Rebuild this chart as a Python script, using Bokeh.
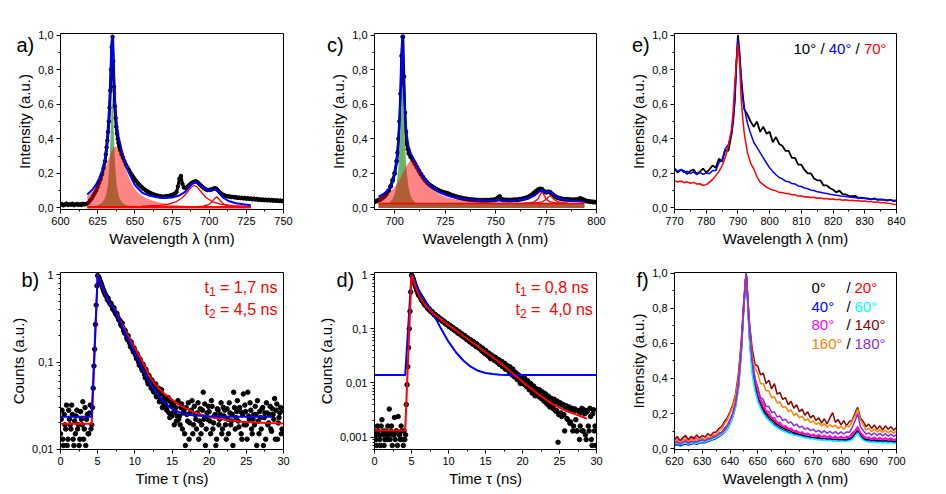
from bokeh.embed import file_html
from bokeh.layouts import gridplot
from bokeh.models import CustomJSTickFormatter, FixedTicker, Label, Range1d, SingleIntervalTicker
from bokeh.plotting import figure
from bokeh.resources import INLINE

FONT = "Liberation Sans"

# ---------------- a) emission spectrum with Lorentzian decomposition ----------------
A_WL = list(range(600, 631)) + [630.5 + 0.5 * i for i in range(20)] + list(range(641, 751))
A_SIGNAL = [
    0.018, 0.022, 0.015, 0.020, 0.025, 0.017, 0.021, 0.019, 0.024, 0.016,
    0.020, 0.023, 0.018, 0.021, 0.017, 0.024, 0.020, 0.022, 0.026, 0.032,
    0.045, 0.055, 0.070, 0.085, 0.100, 0.120, 0.145, 0.165, 0.195, 0.230,
    0.270,
    0.310, 0.350, 0.390, 0.440, 0.500, 0.580, 0.680, 0.800, 0.930, 0.990,
    0.850, 0.700, 0.590, 0.520, 0.470, 0.430, 0.400, 0.375, 0.355, 0.335,
    0.310, 0.290, 0.270, 0.250, 0.235, 0.220, 0.205, 0.190, 0.178, 0.165,
    0.155, 0.143, 0.135, 0.125, 0.118, 0.110, 0.104, 0.098, 0.093, 0.088,
    0.084, 0.080, 0.077, 0.074, 0.072, 0.069, 0.067, 0.066, 0.065, 0.066,
    0.067, 0.068, 0.070, 0.072, 0.075, 0.079, 0.083, 0.092, 0.125, 0.170,
    0.185, 0.140, 0.118, 0.116, 0.120, 0.128, 0.136, 0.143, 0.148, 0.152,
    0.154, 0.150, 0.142, 0.134, 0.126, 0.118, 0.111, 0.106, 0.103, 0.104,
    0.106, 0.108, 0.112, 0.114, 0.110, 0.102, 0.092, 0.084, 0.078, 0.074,
    0.070, 0.068, 0.066, 0.066, 0.063, 0.064, 0.061, 0.062, 0.058, 0.060,
    0.057, 0.059, 0.055, 0.058, 0.053, 0.056, 0.052, 0.055, 0.050, 0.054,
    0.049, 0.052, 0.047, 0.050, 0.046, 0.049, 0.045, 0.048, 0.044, 0.047,
    0.043, 0.046, 0.042, 0.045, 0.041, 0.044, 0.040, 0.043, 0.039, 0.042,
]
A_BROAD_WL = [618, 620, 622, 624, 626, 628, 630, 632, 634, 636, 637, 638, 640, 642, 644,
              646, 648, 650, 652, 655, 658, 662, 666, 670, 676, 684, 695, 710, 728]
A_BROAD = [0.069, 0.082, 0.099, 0.120, 0.148, 0.183, 0.227, 0.275, 0.322, 0.351, 0.355, 0.351,
           0.322, 0.275, 0.225, 0.178, 0.138, 0.110, 0.090, 0.070, 0.055, 0.042, 0.033, 0.026,
           0.019, 0.013, 0.009, 0.006, 0.004]
A_NARROW_WL = [620, 625, 628, 630, 631, 632, 633, 633.8, 634.3, 634.8, 635.3, 635.8, 636.6,
               637.8, 639.6, 641.8, 644.8, 649.8]
A_NARROW = [0.007, 0.015, 0.030, 0.058, 0.088, 0.145, 0.266, 0.450, 0.585, 0.650, 0.585, 0.450,
            0.266, 0.130, 0.058, 0.029, 0.014, 0.006]
A_PEAK1_WL = [655, 665, 672, 678, 682, 685, 688, 690, 692, 695, 698, 702, 708, 716, 728]
A_PEAK1 = [0.010, 0.014, 0.021, 0.037, 0.059, 0.088, 0.121, 0.130, 0.121, 0.088, 0.059, 0.037,
           0.021, 0.013, 0.009]
A_PEAK2_WL = [692, 696, 699, 701, 703, 705, 707, 709, 711, 714, 718, 724]
A_PEAK2 = [0.008, 0.011, 0.017, 0.027, 0.047, 0.065, 0.047, 0.027, 0.017, 0.011, 0.008, 0.0065]
A_BASE_WL = [618, 728]
A_BASE = [0.004, 0.004]
A_FIT_WL = [618, 620, 622, 624, 626, 628, 630, 631, 632, 633, 633.8, 634.3, 634.8, 635.3,
            635.8, 636.6, 637.8, 639, 641, 643, 646, 650, 655, 660, 665, 670, 675, 680, 684,
            687, 690, 693, 696, 699, 702, 704, 706, 709, 713, 718, 723, 728]
A_FIT = [0.078, 0.093, 0.112, 0.136, 0.171, 0.218, 0.290, 0.343, 0.425, 0.575, 0.775, 0.925,
         1.000, 0.930, 0.800, 0.625, 0.490, 0.415, 0.340, 0.278, 0.203, 0.133, 0.088, 0.070,
         0.062, 0.058, 0.060, 0.072, 0.094, 0.127, 0.150, 0.140, 0.118, 0.100, 0.102, 0.110,
         0.097, 0.062, 0.040, 0.027, 0.021, 0.016]

# ---------------- c) emission spectrum with Lorentzian decomposition ----------------
C_WL = list(range(690, 702)) + [701.5 + 0.5 * i for i in range(12)] + list(range(708, 801))
C_SIGNAL = [
    0.035, 0.040, 0.045, 0.050, 0.058, 0.068, 0.082, 0.100, 0.125, 0.160, 0.200, 0.270,
    0.320, 0.400, 0.500, 0.660, 0.880, 0.990, 0.760, 0.550, 0.440, 0.370, 0.340, 0.315,
    0.295, 0.275, 0.255, 0.235, 0.215, 0.195, 0.178, 0.162, 0.148, 0.137,
    0.128, 0.120, 0.113, 0.106, 0.100, 0.095, 0.091, 0.088, 0.085, 0.080,
    0.075, 0.071, 0.067, 0.063, 0.060, 0.058, 0.055, 0.053, 0.051, 0.049,
    0.048, 0.047, 0.046, 0.045, 0.045, 0.044, 0.044, 0.045, 0.044, 0.045,
    0.046, 0.047, 0.048, 0.058, 0.066, 0.050, 0.047, 0.046, 0.046, 0.045,
    0.046, 0.047, 0.047, 0.048, 0.050, 0.052, 0.055, 0.058, 0.062, 0.068,
    0.076, 0.086, 0.096, 0.105, 0.110, 0.108, 0.096, 0.091, 0.093, 0.091,
    0.081, 0.071, 0.063, 0.058, 0.055, 0.052, 0.050, 0.050, 0.049, 0.048,
    0.047, 0.047, 0.048, 0.050, 0.055, 0.050, 0.045, 0.040, 0.038, 0.036,
    0.035, 0.034, 0.033,
]
C_BROAD_WL = [692, 694, 696, 698, 700, 702, 704, 706, 708.5, 711, 713, 716, 719, 722, 726,
              730, 735, 740, 750, 760, 775, 794]
C_BROAD = [0.060, 0.069, 0.080, 0.097, 0.120, 0.154, 0.199, 0.249, 0.282, 0.253, 0.207, 0.145,
           0.105, 0.080, 0.061, 0.051, 0.043, 0.038, 0.033, 0.031, 0.029, 0.028]
C_NARROW_WL = [693.8, 696.8, 698.8, 699.8, 700.8, 701.8, 702.3, 702.8, 703.3, 703.8, 704.3,
               704.8, 705.3, 705.8, 706.8, 707.8, 708.8, 710.8, 713.8]
C_NARROW = [0.013, 0.026, 0.049, 0.074, 0.121, 0.226, 0.322, 0.465, 0.633, 0.720, 0.633, 0.465,
            0.322, 0.226, 0.121, 0.074, 0.049, 0.026, 0.013]
C_BASE_WL = [692, 794]
C_BASE = [0.026, 0.026]
C_PEAK1_WL = [764, 767, 769, 771, 772, 773, 774, 775, 777, 779, 782]
C_PEAK1 = [0.028, 0.030, 0.035, 0.051, 0.074, 0.096, 0.074, 0.051, 0.035, 0.030, 0.028]
C_PEAK2_WL = [768, 771, 773, 775, 776, 777, 778, 779, 781, 783, 786]
C_PEAK2 = [0.028, 0.031, 0.035, 0.049, 0.062, 0.071, 0.062, 0.049, 0.035, 0.031, 0.028]
C_FIT_WL = [692, 694, 696, 698, 699, 700, 701, 701.8, 702.3, 702.8,
            703.3, 703.8, 704.3, 704.8, 705.3, 705.8, 706.8, 708, 710, 712,
            715, 718, 722, 726, 730, 735, 740, 745, 750, 755,
            760, 764, 767, 769, 771, 772, 773, 774, 775, 776,
            777, 778, 780, 783, 787, 790, 794]
C_FIT = [0.066, 0.078, 0.095, 0.125, 0.150, 0.200, 0.270, 0.390, 0.480, 0.620,
         0.800, 1.000, 0.830, 0.660, 0.520, 0.440, 0.360, 0.315, 0.270, 0.225,
         0.165, 0.125, 0.092, 0.072, 0.060, 0.051, 0.046, 0.044, 0.043, 0.043,
         0.045, 0.050, 0.058, 0.070, 0.088, 0.098, 0.102, 0.095, 0.090, 0.093,
         0.094, 0.085, 0.066, 0.050, 0.042, 0.038, 0.036]

# ---------------- e) spectra at three detection angles ----------------
E_WL = list(range(770, 789)) + [788.5 + 0.5 * i for i in range(7)] + list(range(792, 841))
E_10 = [
    0.225, 0.205, 0.222, 0.214, 0.196, 0.215, 0.222, 0.198, 0.210, 0.228,
    0.205, 0.222, 0.245, 0.232, 0.285, 0.268, 0.335, 0.330, 0.430,
    0.500, 0.620, 0.820, 1.000, 0.900, 0.760, 0.660,
    0.570, 0.540, 0.500, 0.470, 0.500, 0.440, 0.470, 0.430,
    0.440, 0.380, 0.410, 0.370, 0.360, 0.330, 0.330, 0.290, 0.290, 0.250,
    0.250, 0.220, 0.200, 0.200, 0.170, 0.160, 0.160, 0.130, 0.130, 0.115,
    0.105, 0.090, 0.100, 0.080, 0.078, 0.070, 0.068, 0.070, 0.058, 0.060,
    0.057, 0.055, 0.050, 0.056, 0.046, 0.050, 0.048, 0.042, 0.047, 0.040,
    0.042,
]
E_40 = [
    0.230, 0.212, 0.222, 0.206, 0.212, 0.198, 0.210, 0.192, 0.206, 0.194,
    0.202, 0.198, 0.216, 0.216, 0.262, 0.278, 0.342, 0.368, 0.430,
    0.520, 0.620, 0.850, 0.980, 0.880, 0.740, 0.640,
    0.580, 0.490, 0.430, 0.380, 0.350, 0.320, 0.290, 0.260,
    0.232, 0.210, 0.192, 0.176, 0.168, 0.155, 0.152, 0.141, 0.139, 0.127,
    0.124, 0.115, 0.111, 0.103, 0.101, 0.093, 0.091, 0.086, 0.083, 0.079,
    0.076, 0.073, 0.071, 0.067, 0.066, 0.063, 0.062, 0.059, 0.058, 0.056,
    0.055, 0.052, 0.052, 0.050, 0.050, 0.047, 0.048, 0.045, 0.046, 0.043,
    0.044,
]
E_70 = [
    0.158, 0.150, 0.156, 0.146, 0.151, 0.143, 0.148, 0.138, 0.140, 0.130,
    0.135, 0.148, 0.165, 0.187, 0.210, 0.244, 0.290, 0.360, 0.460,
    0.560, 0.720, 0.840, 0.950, 0.850, 0.640, 0.520,
    0.430, 0.320, 0.260, 0.225, 0.180, 0.149, 0.135, 0.120,
    0.110, 0.103, 0.099, 0.090, 0.089, 0.083, 0.083, 0.076, 0.077, 0.068,
    0.070, 0.063, 0.065, 0.060, 0.062, 0.056, 0.057, 0.053, 0.055, 0.050,
    0.052, 0.048, 0.050, 0.045, 0.047, 0.043, 0.045, 0.041, 0.043, 0.039,
    0.040, 0.036, 0.038, 0.033, 0.035, 0.030, 0.031, 0.027, 0.026, 0.022,
    0.020,
]
E_ANGLES = ["10°", "40°", "70°"]
E_COLORS = ["#000000", "#0000ff", "#ff0000"]

# ---------------- b) and d) time-resolved decays ----------------
# Counts on the 0.2 ns grid (0.0, 0.2, ...) and on the interleaved grid (0.1, 0.3, ...)
B_COUNTS = [
    0.015, 0.028, 0.011, 0.019, 0.032, 0.013, 0.022, 0.017, 0.025, 0.011,
    0.015, 0.028, 0.019, 0.013, 0.022, 0.035, 0.017, 0.011, 0.025, 0.015,
    0.032, 0.019, 0.050, 0.140, 0.450, 0.980, 0.920, 0.820, 0.740, 0.660,
    0.600, 0.560, 0.540, 0.480, 0.470, 0.410, 0.420, 0.360, 0.360, 0.310,
    0.300, 0.260, 0.250, 0.215, 0.210, 0.180, 0.180, 0.150, 0.155, 0.130,
    0.135, 0.110, 0.118, 0.092, 0.098, 0.080, 0.088, 0.066, 0.075, 0.056,
    0.065, 0.050, 0.058, 0.045, 0.056, 0.040, 0.050, 0.036, 0.048, 0.034,
    0.040, 0.030, 0.037, 0.026, 0.035, 0.024, 0.033, 0.027, 0.021, 0.036,
    0.024, 0.030, 0.017, 0.028, 0.011, 0.025, 0.034, 0.020, 0.028, 0.015,
    0.031, 0.022, 0.026, 0.013, 0.029, 0.019, 0.045, 0.033, 0.017, 0.022,
    0.027, 0.015, 0.031, 0.020, 0.025, 0.013, 0.028, 0.022, 0.034, 0.017,
    0.024, 0.019, 0.029, 0.015, 0.026, 0.021, 0.011, 0.030, 0.023, 0.036,
    0.018, 0.027, 0.013, 0.043, 0.032, 0.019, 0.045, 0.022, 0.028, 0.015,
    0.025, 0.031, 0.011, 0.021, 0.027, 0.017, 0.030, 0.023, 0.013, 0.026,
    0.020, 0.031, 0.016, 0.025, 0.038, 0.028, 0.013, 0.023, 0.030, 0.017,
]
B_COUNTS_MID = [
    0.022, 0.013, 0.025, 0.017, 0.011, 0.028, 0.019, 0.032, 0.013, 0.021,
    0.024, 0.017, 0.011, 0.027, 0.019, 0.013, 0.030, 0.022, 0.015, 0.026,
    0.017, 0.030, 0.090, 0.270, 0.750, 0.960, 0.860, 0.790, 0.700, 0.630,
    0.580, 0.520, 0.500, 0.460, 0.440, 0.400, 0.380, 0.350, 0.330, 0.300,
    0.270, 0.280, 0.230, 0.230, 0.190, 0.200, 0.165, 0.170, 0.140, 0.145,
    0.120, 0.125, 0.100, 0.108, 0.085, 0.094, 0.072, 0.082, 0.060, 0.070,
    0.055, 0.062, 0.046, 0.052, 0.040, 0.047, 0.035, 0.043, 0.030, 0.038,
    0.033, 0.028, 0.039, 0.023, 0.031, 0.026, 0.019, 0.030, 0.024, 0.022,
    0.019, 0.033, 0.026, 0.015, 0.030, 0.021, 0.013, 0.027, 0.036, 0.019,
    0.025, 0.017, 0.034, 0.021, 0.015, 0.028, 0.022, 0.011, 0.026, 0.031,
    0.021, 0.036, 0.017, 0.024, 0.011, 0.029, 0.019, 0.025, 0.015, 0.030,
    0.028, 0.013, 0.022, 0.034, 0.019, 0.025, 0.045, 0.017, 0.027, 0.021,
    0.030, 0.015, 0.025, 0.019, 0.027, 0.013, 0.024, 0.034, 0.017, 0.022,
    0.019, 0.025, 0.036, 0.015, 0.023, 0.029, 0.011, 0.026, 0.034, 0.019,
    0.025, 0.017, 0.029, 0.022, 0.013, 0.033, 0.020, 0.026, 0.015, 0.028,
]
B_FIT_MONO_T = [0, 4.2, 4.5, 4.8, 5.0, 5.3, 5.6, 6.0, 6.5, 7.0, 7.5, 8.0, 8.5, 9.0, 9.5, 10,
                11, 12, 13, 14, 15, 16, 17, 18, 20, 23, 28.5]
B_FIT_MONO = [0.0235, 0.0235, 0.096, 0.39, 1.0, 0.86, 0.74, 0.62, 0.50, 0.43, 0.36, 0.29,
              0.235, 0.19, 0.155, 0.128, 0.085, 0.058, 0.043, 0.034, 0.029, 0.0265, 0.025,
              0.0243, 0.0238, 0.0236, 0.0235]
B_FIT_BI_T = [0, 4.2, 4.5, 4.8, 5.0, 5.3, 5.6, 6.0, 6.5, 7.0, 7.5, 8.0, 8.5, 9.0, 9.5, 10,
              11, 12, 13, 14, 15, 16, 17, 18, 19, 20, 22, 24, 26, 28, 30]
B_FIT_BI = [0.0195, 0.0195, 0.085, 0.38, 1.0, 0.85, 0.73, 0.61, 0.50, 0.43, 0.37, 0.30, 0.25,
            0.205, 0.17, 0.145, 0.102, 0.068, 0.052, 0.043, 0.037, 0.032, 0.029, 0.0265,
            0.0248, 0.0235, 0.0218, 0.0208, 0.0202, 0.0199, 0.0197]
B_TIMES = ["1,7", "4,5"]

D_COUNTS = [
    0.0013, 0.0009, 0.0016, 0.0011, 0.0007, 0.0021, 0.0013, 0.0009, 0.0011, 0.0016,
    0.0033, 0.0013, 0.0007, 0.0011, 0.0009, 0.0013, 0.0024, 0.0011, 0.0016, 0.0009,
    0.0013, 0.0011, 0.0093, 0.045, 0.21, 0.98, 0.86, 0.70, 0.58, 0.48,
    0.41, 0.39, 0.33, 0.32, 0.275, 0.27, 0.238, 0.235, 0.208, 0.208,
    0.186, 0.184, 0.166, 0.168, 0.150, 0.152, 0.137, 0.139, 0.124, 0.126,
    0.114, 0.116, 0.103, 0.106, 0.094, 0.097, 0.086, 0.089, 0.079, 0.081,
    0.072, 0.075, 0.066, 0.068, 0.060, 0.063, 0.055, 0.058, 0.050, 0.053,
    0.046, 0.048, 0.041, 0.044, 0.037, 0.040, 0.034, 0.036, 0.030, 0.033,
    0.031, 0.026, 0.029, 0.024, 0.027, 0.022, 0.025, 0.021, 0.023, 0.019,
    0.019, 0.016, 0.017, 0.014, 0.016, 0.013, 0.0145, 0.012, 0.013, 0.0105,
    0.0115, 0.0095, 0.0105, 0.0085, 0.0095, 0.0078, 0.0088, 0.0068, 0.0078, 0.0062,
    0.0072, 0.0056, 0.0066, 0.0052, 0.0060, 0.0046, 0.0055, 0.0041, 0.0051, 0.0038,
    0.0047, 0.0033, 0.0044, 0.0031, 0.0008, 0.0041, 0.0028, 0.0039, 0.0026, 0.0036,
    0.0022, 0.0034, 0.0018, 0.0032, 0.0013, 0.0031, 0.0021, 0.0013, 0.0030, 0.0016,
    0.0034, 0.0013, 0.0027, 0.0009, 0.0031, 0.0013, 0.0024, 0.0007, 0.0032, 0.0016,
]
D_COUNTS_MID = [
    0.0011, 0.0007, 0.0013, 0.0009, 0.0016, 0.0011, 0.0007, 0.0013, 0.0009, 0.0011,
    0.0009, 0.0016, 0.0011, 0.0023, 0.0013, 0.0007, 0.0011, 0.0009, 0.0013, 0.0007,
    0.0009, 0.0040, 0.020, 0.100, 0.480, 0.940, 0.780, 0.630, 0.520, 0.440,
    0.400, 0.355, 0.325, 0.290, 0.275, 0.250, 0.232, 0.220, 0.210, 0.196,
    0.180, 0.176, 0.163, 0.160, 0.148, 0.147, 0.135, 0.133, 0.122, 0.121,
    0.110, 0.112, 0.100, 0.102, 0.092, 0.094, 0.083, 0.086, 0.076, 0.078,
    0.070, 0.071, 0.063, 0.064, 0.057, 0.060, 0.052, 0.054, 0.047, 0.049,
    0.044, 0.045, 0.039, 0.041, 0.035, 0.037, 0.032, 0.033, 0.028, 0.030,
    0.028, 0.030, 0.025, 0.027, 0.022, 0.025, 0.020, 0.023, 0.018, 0.021,
    0.0175, 0.0200, 0.0155, 0.0180, 0.0130, 0.0155, 0.0115, 0.0140, 0.0098, 0.0125,
    0.0098, 0.0122, 0.0088, 0.0110, 0.0075, 0.0098, 0.0065, 0.0088, 0.0058, 0.0078,
    0.0058, 0.0075, 0.0052, 0.0068, 0.0046, 0.0063, 0.0041, 0.0057, 0.0036, 0.0052,
    0.0036, 0.0050, 0.0030, 0.0046, 0.0026, 0.0043, 0.0024, 0.0040, 0.0013, 0.0038,
    0.0021, 0.0036, 0.0019, 0.0034, 0.0016, 0.0033, 0.0013, 0.0031, 0.0009, 0.0028,
    0.0013, 0.0032, 0.0011, 0.0029, 0.0016, 0.0034, 0.0009, 0.0027, 0.0013, 0.0007,
]
D_FIT_MONO_T = [0, 4.15, 4.4, 4.6, 4.8, 5.0, 5.2, 5.5, 6.0, 6.5, 7.0, 7.5, 8.0, 8.5, 9.0,
                9.5, 10, 11, 12, 13, 14, 15, 16, 17, 18, 20, 25, 30]
D_FIT_MONO = [0.014, 0.014, 0.049, 0.135, 0.38, 1.0, 0.9, 0.72, 0.52, 0.40, 0.31, 0.24, 0.18,
              0.135, 0.10, 0.076, 0.058, 0.037, 0.026, 0.020, 0.0168, 0.0153, 0.0146, 0.0142,
              0.0141, 0.014, 0.014, 0.014]
D_FIT_BI_T = [0, 4.15, 4.4, 4.6, 4.8, 5.0, 5.2, 5.5, 6.0, 6.5, 7.0, 7.5, 8.0, 9.0, 10, 11,
              12, 13, 14, 15, 16, 17, 18, 19, 20, 21, 22, 23, 24, 25, 26, 27, 28, 28.7]
D_FIT_BI = [0.00133, 0.00133, 0.0093, 0.045, 0.21, 1.0, 0.85, 0.62, 0.42, 0.32, 0.26, 0.22,
            0.19, 0.148, 0.117, 0.093, 0.074, 0.059, 0.047, 0.037, 0.0295, 0.0235, 0.0182,
            0.0138, 0.0105, 0.0082, 0.0064, 0.0051, 0.0041, 0.0035, 0.0030, 0.0027, 0.0024,
            0.0022]
D_TIMES = ["0,8", "\u00a04,0"]

# ---------------- f) spectra at eight detection angles ----------------
F_WL = list(range(620, 646)) + [645.8] + list(range(646, 701))
F_0 = [
    0.028, 0.022, 0.032, 0.026, 0.030, 0.035, 0.028, 0.034, 0.038, 0.033,
    0.040, 0.045, 0.042, 0.050, 0.056, 0.064, 0.072, 0.085, 0.100, 0.118,
    0.150, 0.190, 0.250, 0.350, 0.540, 0.820, 1.000, 0.950, 0.650, 0.460, 0.360,
    0.300, 0.260, 0.225, 0.200, 0.180, 0.165, 0.150, 0.138, 0.126, 0.118,
    0.110, 0.104, 0.098, 0.090, 0.086, 0.080, 0.078, 0.072, 0.070, 0.066,
    0.064, 0.060, 0.062, 0.057, 0.058, 0.055, 0.056, 0.052, 0.054, 0.050,
    0.052, 0.050, 0.053, 0.056, 0.065, 0.085, 0.105, 0.078, 0.060, 0.052,
    0.050, 0.047, 0.049, 0.045, 0.047, 0.043, 0.046, 0.042, 0.044, 0.040,
    0.042,
]
F_20 = [
    0.035, 0.042, 0.030, 0.038, 0.045, 0.036, 0.040, 0.046, 0.040, 0.045,
    0.048, 0.052, 0.050, 0.056, 0.062, 0.070, 0.078, 0.090, 0.105, 0.125,
    0.155, 0.200, 0.260, 0.360, 0.550, 0.830, 1.000, 0.960, 0.670, 0.480, 0.380,
    0.310, 0.270, 0.235, 0.210, 0.190, 0.175, 0.160, 0.148, 0.137, 0.128,
    0.120, 0.113, 0.108, 0.100, 0.096, 0.090, 0.088, 0.082, 0.080, 0.076,
    0.074, 0.070, 0.072, 0.067, 0.069, 0.065, 0.067, 0.062, 0.065, 0.060,
    0.063, 0.060, 0.064, 0.068, 0.078, 0.100, 0.120, 0.090, 0.070, 0.062,
    0.060, 0.057, 0.060, 0.055, 0.058, 0.053, 0.057, 0.052, 0.055, 0.050,
    0.053,
]
F_40 = [
    0.018, 0.025, 0.015, 0.022, 0.028, 0.020, 0.026, 0.030, 0.024, 0.032,
    0.035, 0.033, 0.040, 0.046, 0.052, 0.058, 0.068, 0.078, 0.092, 0.110,
    0.140, 0.180, 0.240, 0.340, 0.530, 0.810, 1.000, 0.950, 0.630, 0.440, 0.340,
    0.280, 0.240, 0.210, 0.185, 0.168, 0.150, 0.138, 0.126, 0.115, 0.107,
    0.100, 0.094, 0.088, 0.082, 0.078, 0.074, 0.069, 0.066, 0.062, 0.060,
    0.058, 0.055, 0.056, 0.051, 0.053, 0.049, 0.050, 0.046, 0.048, 0.045,
    0.046, 0.043, 0.046, 0.050, 0.058, 0.075, 0.095, 0.070, 0.052, 0.045,
    0.042, 0.040, 0.042, 0.038, 0.040, 0.036, 0.039, 0.035, 0.037, 0.033,
    0.035,
]
F_60 = [
    0.025, 0.031, 0.022, 0.028, 0.033, 0.026, 0.030, 0.035, 0.029, 0.036,
    0.040, 0.038, 0.045, 0.050, 0.056, 0.062, 0.072, 0.082, 0.095, 0.112,
    0.140, 0.180, 0.235, 0.330, 0.520, 0.800, 1.000, 0.940, 0.620, 0.420, 0.330,
    0.270, 0.232, 0.200, 0.178, 0.160, 0.145, 0.130, 0.120, 0.110, 0.101,
    0.095, 0.088, 0.084, 0.078, 0.074, 0.070, 0.066, 0.062, 0.060, 0.055,
    0.057, 0.052, 0.050, 0.048, 0.050, 0.045, 0.047, 0.043, 0.045, 0.042,
    0.044, 0.040, 0.042, 0.045, 0.050, 0.068, 0.090, 0.065, 0.048, 0.040,
    0.038, 0.036, 0.038, 0.034, 0.036, 0.033, 0.035, 0.032, 0.034, 0.030,
    0.032,
]
F_80 = [
    0.045, 0.070, 0.035, 0.060, 0.072, 0.040, 0.065, 0.046, 0.062, 0.044,
    0.060, 0.046, 0.064, 0.058, 0.074, 0.071, 0.089, 0.091, 0.114, 0.126,
    0.160, 0.200, 0.260, 0.360, 0.550, 0.820, 1.000, 0.960, 0.680, 0.500, 0.400,
    0.340, 0.280, 0.260, 0.215, 0.210, 0.175, 0.178, 0.148, 0.150, 0.128,
    0.130, 0.113, 0.116, 0.100, 0.103, 0.090, 0.095, 0.082, 0.088, 0.075,
    0.083, 0.068, 0.081, 0.065, 0.077, 0.062, 0.075, 0.059, 0.073, 0.058,
    0.071, 0.057, 0.070, 0.067, 0.090, 0.100, 0.125, 0.090, 0.077, 0.059,
    0.067, 0.053, 0.066, 0.051, 0.064, 0.050, 0.063, 0.048, 0.061, 0.047,
    0.058,
]
F_140 = [
    0.052, 0.068, 0.045, 0.062, 0.075, 0.050, 0.070, 0.058, 0.078, 0.060,
    0.075, 0.065, 0.085, 0.072, 0.092, 0.095, 0.115, 0.125, 0.155, 0.175,
    0.210, 0.250, 0.310, 0.420, 0.600, 0.850, 1.000, 0.970, 0.720, 0.570, 0.480,
    0.470, 0.420, 0.430, 0.370, 0.390, 0.340, 0.370, 0.310, 0.320, 0.280,
    0.290, 0.250, 0.270, 0.230, 0.250, 0.210, 0.225, 0.190, 0.210, 0.175,
    0.190, 0.160, 0.175, 0.145, 0.170, 0.140, 0.175, 0.205, 0.150, 0.165,
    0.135, 0.160, 0.130, 0.155, 0.160, 0.200, 0.235, 0.175, 0.155, 0.125,
    0.140, 0.115, 0.135, 0.110, 0.130, 0.105, 0.130, 0.110, 0.125, 0.105,
    0.120,
]
F_160 = [
    0.040, 0.052, 0.034, 0.048, 0.056, 0.040, 0.055, 0.044, 0.058, 0.047,
    0.060, 0.052, 0.066, 0.063, 0.078, 0.083, 0.102, 0.113, 0.142, 0.162,
    0.200, 0.240, 0.300, 0.400, 0.580, 0.840, 1.000, 0.960, 0.700, 0.530, 0.460,
    0.430, 0.370, 0.370, 0.330, 0.330, 0.290, 0.295, 0.260, 0.265, 0.235,
    0.240, 0.210, 0.220, 0.190, 0.200, 0.175, 0.185, 0.160, 0.170, 0.148,
    0.158, 0.138, 0.148, 0.130, 0.142, 0.122, 0.136, 0.124, 0.133, 0.115,
    0.128, 0.110, 0.130, 0.125, 0.155, 0.185, 0.225, 0.165, 0.135, 0.105,
    0.115, 0.098, 0.112, 0.094, 0.108, 0.092, 0.105, 0.090, 0.102, 0.088,
    0.100,
]
F_180 = [
    0.030, 0.040, 0.025, 0.036, 0.043, 0.030, 0.041, 0.038, 0.040, 0.047,
    0.050, 0.044, 0.055, 0.055, 0.067, 0.070, 0.085, 0.093, 0.115, 0.132,
    0.165, 0.200, 0.260, 0.370, 0.560, 0.830, 1.000, 0.960, 0.690, 0.500, 0.400,
    0.350, 0.290, 0.280, 0.240, 0.240, 0.205, 0.210, 0.180, 0.186, 0.160,
    0.168, 0.145, 0.152, 0.130, 0.140, 0.120, 0.128, 0.110, 0.118, 0.102,
    0.111, 0.095, 0.104, 0.090, 0.102, 0.087, 0.099, 0.085, 0.097, 0.083,
    0.095, 0.082, 0.095, 0.093, 0.120, 0.155, 0.200, 0.125, 0.103, 0.083,
    0.090, 0.077, 0.089, 0.075, 0.087, 0.073, 0.085, 0.071, 0.083, 0.070,
    0.080,
]
F_SERIES = [F_0, F_20, F_40, F_60, F_80, F_140, F_160, F_180]
F_ANGLES = ["0°", "20°", "40°", "60°", "80°", "140°", "160°", "180°"]
F_COLORS = ["#000000", "#ff0000", "#0000ff", "#00ffff", "#ff00ff", "#8b0000", "#ff8000", "#8a2be2"]

PINK_FILL = "#ff0000"
GREEN_FILL = "#68b468"
BROWN_FILL = "#a65a38"

LINEAR_FMT = "return tick.toFixed(1).replace('.', ',');"
LOG_FMT = "return tick >= 1 ? '1' : String(tick).replace('.', ',');"


def make_panel(width, height, xr, yr, border, x_step, log_y=False,
               x_label="Wavelength λ (nm)", y_label="Intensity (a.u.)"):
    left, right, top, bottom = border
    p = figure(width=width, height=height,
               x_range=Range1d(*xr), y_range=Range1d(*yr),
               y_axis_type="log" if log_y else "linear",
               output_backend="svg", toolbar_location=None,
               min_border_left=left, min_border_right=right,
               min_border_top=top, min_border_bottom=bottom)
    p.xgrid.visible = False
    p.ygrid.visible = False
    p.background_fill_color = "white"
    p.border_fill_color = "white"
    p.outline_line_color = "black"
    p.outline_line_alpha = 1.0
    p.outline_line_width = 1
    p.xaxis.ticker = SingleIntervalTicker(interval=x_step, num_minor_ticks=2)
    if log_y:
        decades = [10.0 ** e for e in range(-4, 1)]
        minors = [m * d for d in decades[:-1] for m in range(2, 10)]
        p.yaxis.ticker = FixedTicker(ticks=decades, minor_ticks=minors)
        p.yaxis.formatter = CustomJSTickFormatter(code=LOG_FMT)
    else:
        p.yaxis.ticker = SingleIntervalTicker(interval=0.2, num_minor_ticks=2)
        p.yaxis.formatter = CustomJSTickFormatter(code=LINEAR_FMT)
    p.xaxis.axis_label = x_label
    p.yaxis.axis_label = y_label
    for ax in (p.xaxis[0], p.yaxis[0]):
        ax.axis_line_color = "black"
        ax.axis_line_width = 1
        ax.major_tick_line_color = "black"
        ax.minor_tick_line_color = "black"
        ax.major_tick_out = 4
        ax.major_tick_in = 0
        ax.minor_tick_out = 2
        ax.minor_tick_in = 0
        ax.major_label_text_font = FONT
        ax.major_label_text_font_size = "11px"
        ax.major_label_text_color = "black"
        ax.major_label_standoff = 3
        ax.axis_label_text_font = FONT
        ax.axis_label_text_font_size = "15px"
        ax.axis_label_text_font_style = "normal"
        ax.axis_label_text_color = "black"
        ax.axis_label_standoff = 2
    return p


def note(p, sx, sy, text, size="15px", color="black"):
    p.add_layout(Label(x=sx, y=sy, x_units="screen", y_units="screen", text=text,
                       text_font=FONT, text_font_size=size, text_color=color,
                       text_baseline="alphabetic", text_align="left"))


def panel_letter(p, sx, drop, text):
    # placed in the band above the frame so it is drawn outside the data area
    p.add_layout(Label(x=sx, y=-drop, x_units="screen", y_units="screen", text=text,
                       text_font=FONT, text_font_size="20px", text_color="black",
                       text_line_height=1.0, text_baseline="alphabetic",
                       text_align="left"), "above")


def lifetimes(p, sx, values):
    for row, (sub, val) in enumerate(zip(["1", "2"], values)):
        base = 162 - 22 * row
        note(p, sx, base, "t", "16px", "#ff0000")
        note(p, sx + 4.5, base - 4, sub, "12px", "#ff0000")
        note(p, sx + 15.5, base, "= " + val + " ns", "16px", "#ff0000")


# ----- a) -----
pa = make_panel(310, 249, (600, 750), (-0.009, 1.009), (60, 27, 33, 38), 25)
pa.line(A_WL, A_SIGNAL, line_color="black", line_width=3)
pa.scatter(A_WL, A_SIGNAL, size=3.5, color="black")
pa.varea(x=A_NARROW_WL, y1=0, y2=A_NARROW, fill_color=GREEN_FILL, fill_alpha=1.0)
pa.varea(x=A_BROAD_WL, y1=0, y2=A_BROAD, fill_color=PINK_FILL, fill_alpha=0.48)
pa.line(A_BASE_WL, A_BASE, line_color="#ff0000", line_width=2.5)
pa.line(A_PEAK1_WL, A_PEAK1, line_color="#ff0000", line_width=1.3)
pa.line(A_PEAK2_WL, A_PEAK2, line_color="#ff0000", line_width=1.3)
pa.line(A_FIT_WL, A_FIT, line_color="#0000ff", line_width=2)
panel_letter(pa, -44, 11, "a)")

# ----- c) -----
pc = make_panel(310, 249, (690, 800), (-0.009, 1.009), (64, 24, 33, 38), 25)
pc.line(C_WL, C_SIGNAL, line_color="black", line_width=3)
pc.scatter(C_WL, C_SIGNAL, size=4, color="black")
pc.varea(x=C_NARROW_WL, y1=0, y2=C_NARROW, fill_color=GREEN_FILL, fill_alpha=1.0)
pc.varea(x=C_BROAD_WL, y1=0, y2=C_BROAD, fill_color=PINK_FILL, fill_alpha=0.48)
pc.varea(x=C_BASE_WL, y1=0, y2=C_BASE, fill_color=BROWN_FILL, fill_alpha=1.0)
pc.line(C_BASE_WL, C_BASE, line_color="#ff0000", line_width=1.5)
pc.line(C_PEAK1_WL, C_PEAK1, line_color="#ff0000", line_width=1.3)
pc.line(C_PEAK2_WL, C_PEAK2, line_color="#ff0000", line_width=1.3)
pc.line(C_FIT_WL, C_FIT, line_color="#0000ff", line_width=2)
panel_letter(pc, -47.5, 11, "c)")

# ----- e) -----
pe = make_panel(326, 249, (770, 840), (-0.009, 1.009), (54, 50, 33, 38), 10)
for series, color, width in zip([E_10, E_40, E_70], E_COLORS, [1.8, 1.5, 1.5]):
    pe.line(E_WL, series, line_color=color, line_width=width)
panel_letter(pe, -42.5, 11, "e)")
legend_x = 119
for i, (angle, color) in enumerate(zip(E_ANGLES, E_COLORS)):
    note(pe, legend_x, 161, angle, "15px", color)
    legend_x += 22.7
    if i < len(E_ANGLES) - 1:
        note(pe, legend_x + 4.2, 161, "/", "15px", "black")
        legend_x += 12.5

# ----- b) -----
B_T = [round(0.2 * i, 1) for i in range(len(B_COUNTS))]
B_T_MID = [round(0.2 * i + 0.1, 1) for i in range(len(B_COUNTS_MID))]
pb = make_panel(310, 245, (0, 30), (0.0099, 1.065), (60, 27, 23, 45), 5, log_y=True,
                x_label="Time τ (ns)", y_label="Counts (a.u.)")
pb.scatter(B_T, B_COUNTS, size=4.5, color="black")
pb.scatter(B_T_MID, B_COUNTS_MID, size=4.5, color="black")
pb.line(B_FIT_BI_T, B_FIT_BI, line_color="#ff0000", line_width=2)
pb.line(B_FIT_MONO_T, B_FIT_MONO, line_color="#0000ff", line_width=2)
panel_letter(pb, -39, 7, "b)")
lifetimes(pb, 144, B_TIMES)

# ----- d) -----
D_T = [round(0.2 * i, 1) for i in range(len(D_COUNTS))]
D_T_MID = [round(0.2 * i + 0.1, 1) for i in range(len(D_COUNTS_MID))]
pd_ = make_panel(310, 245, (0, 30), (0.00059, 1.1), (63, 24, 23, 45), 5, log_y=True,
                 x_label="Time τ (ns)", y_label="Counts (a.u.)")
pd_.scatter(D_T, D_COUNTS, size=4.5, color="black")
pd_.scatter(D_T_MID, D_COUNTS_MID, size=4.5, color="black")
pd_.line(D_FIT_MONO_T, D_FIT_MONO, line_color="#0000ff", line_width=2)
pd_.line(D_FIT_BI_T, D_FIT_BI, line_color="#ff0000", line_width=2)
panel_letter(pd_, -38, 7, "d)")
lifetimes(pd_, 141, D_TIMES)

# ----- f) -----
pf = make_panel(326, 245, (620, 700), (-0.005, 1.003), (53, 50, 23, 45), 10)
for series, color in zip(F_SERIES, F_COLORS):
    pf.line(F_WL, series, line_color=color, line_width=1.5)
panel_letter(pf, -38, 7, "f)")
for row in range(4):
    sy = 162 - 18.6 * row
    left, right = 2 * row, 2 * row + 1
    note(pf, 137, sy, F_ANGLES[left], "15px", F_COLORS[left])
    note(pf, 172, sy, "/", "15px", "black")
    note(pf, 180, sy, F_ANGLES[right], "15px", F_COLORS[right])

grid = gridplot([[pa, pc, pe], [pb, pd_, pf]], toolbar_location=None)

with open("out.html", "w") as fh:
    fh.write(file_html(grid, INLINE, title="Spectra and decays"))
